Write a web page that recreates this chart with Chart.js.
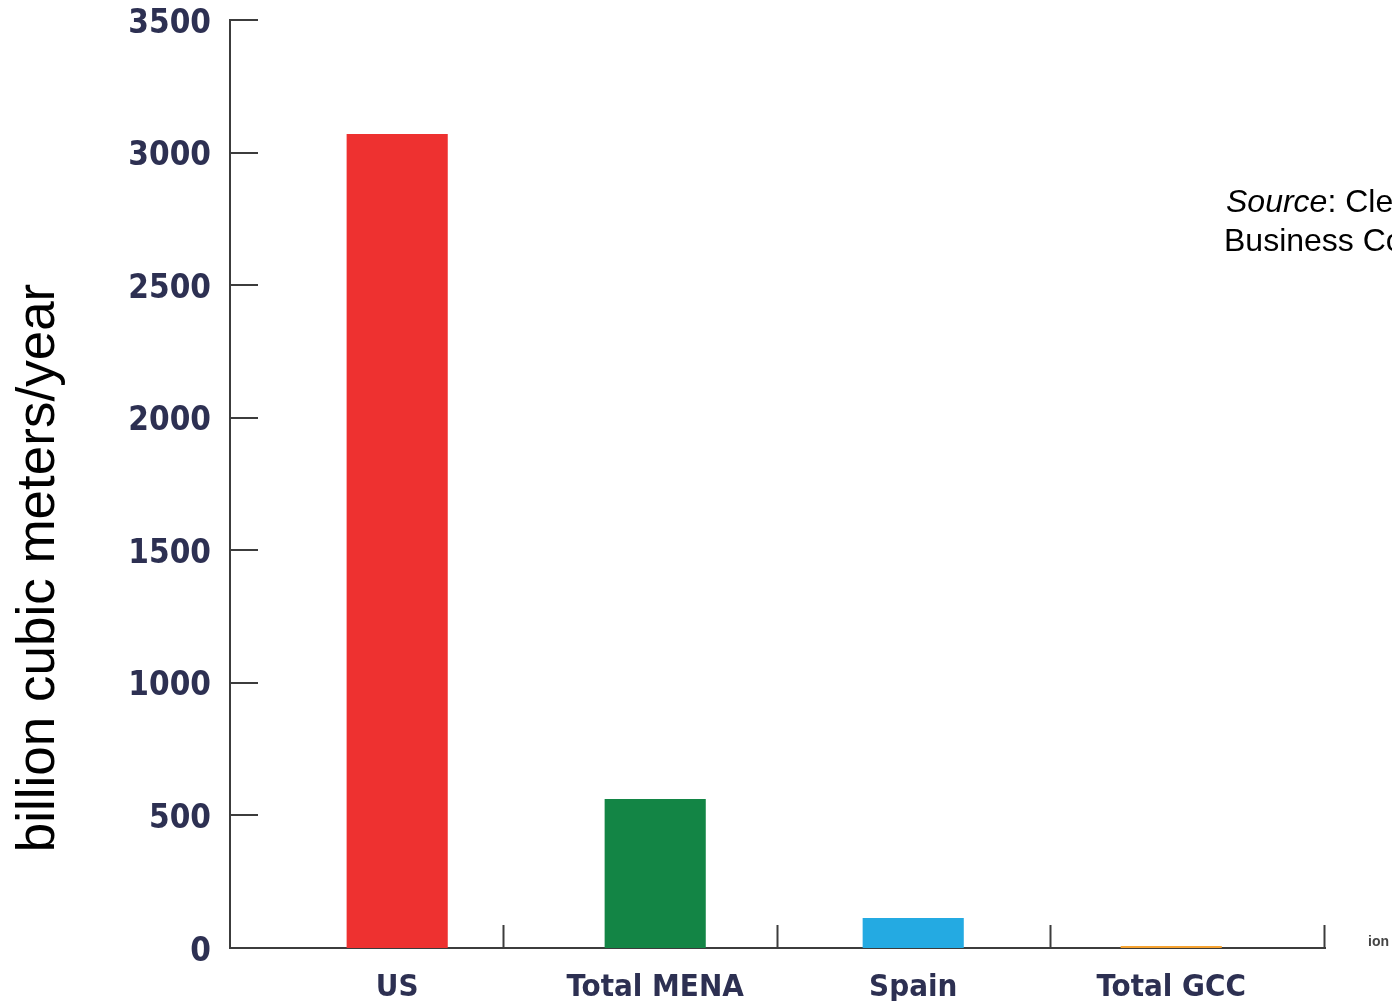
<!DOCTYPE html>
<html>
<head>
<meta charset="utf-8">
<script src="https://cdn.jsdelivr.net/npm/chart.js@4/dist/chart.umd.min.js"></script>
<style>
  html, body { margin: 0; padding: 0; background: #ffffff; overflow: hidden; }
  #wrap { width: 1392px; height: 1001px; position: relative; }
</style>
</head>
<body>
<div id="wrap"><canvas id="chart" width="1392" height="1001"></canvas></div>
<script>
// Annual volumes, billion cubic meters per year
const categories = ['US', 'Total MENA', 'Spain', 'Total GCC'];
const volumes = [3070, 562, 113, 8];
const barColors = ['#ee3130', '#138545', '#24aae2', '#f6a331'];
const yTickValues = [0, 500, 1000, 1500, 2000, 2500, 3000, 3500];
const yAxisTitle = 'billion cubic meters/year';
const sourceLines = [['Source', ': Clean Energy'], ['', 'Business Council']];
const cornerNote = 'ion';

const axisColor = '#3c3c3c';
const tickTextColor = '#2d3052';
const tickFamily = '"DejaVu Sans Condensed", "DejaVu Sans", sans-serif';

// Short tick marks pointing into the plot area, plus the free-standing texts
const decorations = {
  id: 'decorations',
  afterDraw(chart) {
    const { ctx, chartArea, scales } = chart;
    const y = scales.y;
    ctx.save();
    ctx.strokeStyle = axisColor;
    ctx.lineWidth = 2;
    // y ticks: from the axis line to the right
    yTickValues.forEach(v => {
      const py = Math.round(y.getPixelForValue(v));
      ctx.beginPath();
      ctx.moveTo(chartArea.left, py);
      ctx.lineTo(chartArea.left + 28, py);
      ctx.stroke();
    });
    // category separators on the x axis, rising from the baseline
    const step = (chartArea.right - chartArea.left) / categories.length;
    for (let k = 1; k <= categories.length; k++) {
      const px = Math.round(chartArea.left + k * step) - 0.5;
      ctx.beginPath();
      ctx.moveTo(px, chartArea.bottom);
      ctx.lineTo(px, chartArea.bottom - 23);
      ctx.stroke();
    }
    // rotated y axis title
    ctx.save();
    ctx.translate(39, chartArea.bottom - 380);
    ctx.rotate(-Math.PI / 2);
    ctx.fillStyle = '#000000';
    ctx.font = '53px "Liberation Sans", Arial, sans-serif';
    ctx.textAlign = 'center';
    ctx.textBaseline = 'middle';
    ctx.fillText(yAxisTitle, 0, 0);
    ctx.restore();
    // source note
    ctx.fillStyle = '#000000';
    ctx.textBaseline = 'middle';
    ctx.textAlign = 'left';
    sourceLines.forEach((parts, i) => {
      let x = 1226 - (i === 1 ? 2 : 0);
      const ly = 203 + i * 39;
      if (parts[0]) {
        ctx.font = 'italic 32px "Liberation Sans", Arial, sans-serif';
        ctx.fillText(parts[0], x, ly);
        x += ctx.measureText(parts[0]).width;
      }
      ctx.font = '32px "Liberation Sans", Arial, sans-serif';
      ctx.fillText(parts[1], x, ly);
    });
    // small note at the right edge
    ctx.font = 'bold 14px "Liberation Sans", Arial, sans-serif';
    ctx.fillStyle = '#444444';
    ctx.fillText(cornerNote, 1368, 942);
    ctx.restore();
  }
};

const points = volumes.map((v, i) => ({ x: i, y: v }));

new Chart(document.getElementById('chart'), {
  type: 'bar',
  data: {
    datasets: [{
      data: points,
      backgroundColor: barColors,
      borderWidth: 0,
      categoryPercentage: 1,
      barPercentage: 0.392
    }]
  },
  options: {
    responsive: false,
    animation: false,
    devicePixelRatio: 1,
    layout: { padding: { top: 20, right: 67, left: 0, bottom: 0 } },
    plugins: { legend: { display: false }, tooltip: { enabled: false }, title: { display: false } },
    scales: {
      x: {
        type: 'linear',
        offset: false,
        min: -0.648,
        max: 3.596,
        grid: { display: false, drawTicks: false, offset: false },
        border: { display: true, color: axisColor, width: 2 },
        ticks: {
          stepSize: 1,
          includeBounds: false,
          autoSkip: false,
          maxRotation: 0,
          padding: 21,
          color: tickTextColor,
          font: { family: tickFamily, size: 31, weight: 'bold' },
          callback: (v) => (Number.isInteger(v) && categories[v] !== undefined) ? categories[v] : ''
        },
        afterFit: (s) => { s.height = 53; s.paddingLeft = 0; s.paddingRight = 0; }
      },
      y: {
        min: 0,
        max: 3500,
        grid: { display: false, drawTicks: false },
        border: { display: true, color: axisColor, width: 2 },
        ticks: {
          stepSize: 500,
          padding: 19,
          labelOffset: 4,
          color: tickTextColor,
          font: { family: tickFamily, size: 33, weight: 'bold' },
          callback: (v) => String(v)
        },
        afterFit: (s) => { s.width = 230; s.paddingTop = 0; s.paddingBottom = 0; }
      }
    }
  },
  plugins: [decorations]
});
</script>
</body>
</html>
